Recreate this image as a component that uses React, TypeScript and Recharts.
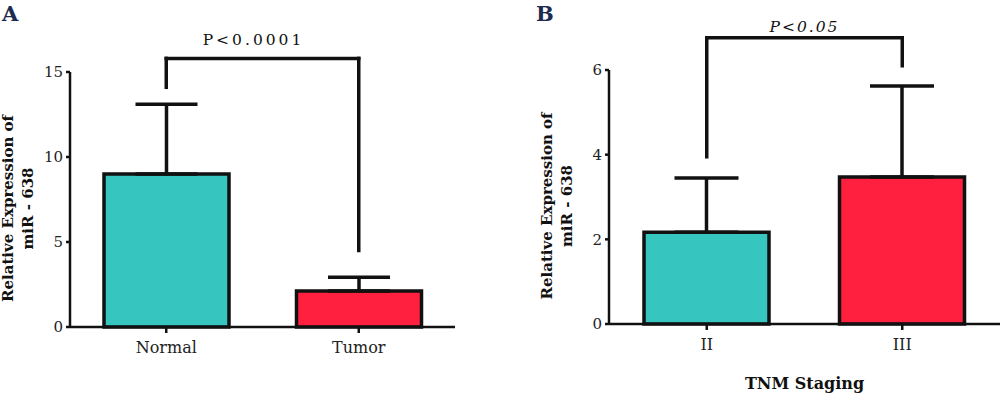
import { BarChart, Bar, XAxis, YAxis, ErrorBar, Cell, ReferenceLine } from 'recharts';

// panel A: Normal vs Tumor
const groupsA = ['Normal', 'Tumor'];
const meansA = [9.0, 2.12];
const sdA = [4.1, 0.8];
const ticksA = [0, 5, 10, 15];
const bracketA = { top: 15.8, left: 14.1, right: 4.5, text: 'P<0.0001' };

// panel B: TNM staging
const groupsB = ['II', 'III'];
const meansB = [2.17, 3.47];
const sdB = [1.28, 2.15];
const ticksB = [0, 2, 4, 6];
const bracketB = { top: 6.76, left: 3.95, right: 6.1, text: 'P<0.05' };

const BAR_COLORS = ['#36c5bf', '#ff1f3e'];
const SERIF = '"DejaVu Serif", serif';
const INK = '#111';

const toRows = (groups: string[], means: number[], sd: number[]) =>
  groups.map((g, i) => ({ name: g, value: means[i], err: [0, sd[i]] }));

function YLabel(props: any) {
  const vb = props.viewBox || {};
  const axisX = vb.x + vb.width;
  const cy = vb.y + vb.height / 2 + 9;
  const style = { fontFamily: SERIF, fontWeight: 700, fontSize: 15, fill: INK };
  return (
    <g>
      <text transform={`translate(${axisX - 57},${cy}) rotate(-90)`} textAnchor="middle" style={style}>
        Relative Expression of
      </text>
      <text transform={`translate(${axisX - 37},${cy}) rotate(-90)`} textAnchor="middle" style={style}>
        miR - 638
      </text>
    </g>
  );
}

interface PanelProps {
  groups: string[];
  means: number[];
  sd: number[];
  ticks: number[];
  bracket: { top: number; left: number; right: number; text: string };
  left: number;
  width: number;
  margin: { top: number; right: number; left: number; bottom: number };
  xHeight: number;
  capWidth: number;
  italic?: boolean;
  pOffset: number;
  pSpacing: number;
  pShift: number;
  xLabel?: string;
}

function Panel(p: PanelProps) {
  const rows = toRows(p.groups, p.means, p.sd);
  const [g0, g1] = p.groups;
  const br = p.bracket;
  const line = { stroke: INK, strokeWidth: 3.5, strokeLinecap: 'square' as const, ifOverflow: 'visible' as const };
  return (
    <div style={{ position: 'absolute', left: p.left, top: 0 }}>
      <BarChart width={p.width} height={394} data={rows} margin={p.margin}>
        <XAxis
          dataKey="name"
          height={p.xHeight}
          axisLine={{ stroke: INK, strokeWidth: 2.5 }}
          tickLine={{ stroke: INK, strokeWidth: 2.5 }}
          tickSize={6}
          tickMargin={9}
          tick={{ fontFamily: SERIF, fontSize: 16, fill: '#222' }}
          label={p.xLabel ? {
            value: p.xLabel, position: 'insideBottom', offset: 5,
            style: { fontFamily: SERIF, fontWeight: 700, fontSize: 16, fill: INK },
          } : undefined}
        />
        <YAxis
          width={60}
          domain={[p.ticks[0], p.ticks[p.ticks.length - 1]]}
          ticks={p.ticks}
          axisLine={{ stroke: INK, strokeWidth: 2.5 }}
          tickLine={{ stroke: INK, strokeWidth: 2.5 }}
          tickSize={4}
          tickMargin={3}
          tick={{ fontFamily: SERIF, fontSize: 15, fill: '#222' }}
          label={(lp: any) => <YLabel {...lp} />}
        />
        <Bar dataKey="value" barSize={125} stroke={INK} strokeWidth={3.5} isAnimationActive={false}>
          {rows.map((r, i) => (
            <Cell key={r.name} fill={BAR_COLORS[i]} />
          ))}
          <ErrorBar dataKey="err" direction="y" width={p.capWidth} stroke={INK} strokeWidth={3.5} />
        </Bar>
        <ReferenceLine
          segment={[{ x: g0, y: br.top }, { x: g1, y: br.top }]}
          {...line}
          label={{
            value: br.text, position: 'top', offset: p.pOffset, dx: p.pShift,
            style: {
              fontFamily: SERIF, fontSize: 15.5, fill: INK, letterSpacing: p.pSpacing,
              fontStyle: p.italic ? 'italic' : 'normal',
            },
          }}
        />
        <ReferenceLine segment={[{ x: g0, y: br.top }, { x: g0, y: br.left }]} {...line} />
        <ReferenceLine segment={[{ x: g1, y: br.top }, { x: g1, y: br.right }]} {...line} />
      </BarChart>
    </div>
  );
}

const letterStyle = {
  position: 'absolute' as const,
  top: 1,
  fontFamily: SERIF,
  fontWeight: 700,
  fontSize: 21,
  color: '#1d2b4f',
  lineHeight: '26px',
};

export default function App() {
  return (
    <div style={{ position: 'absolute', left: 0, top: 0, width: 1000, height: 394, background: '#fff' }}>
      <Panel
        groups={groupsA} means={meansA} sd={sdA} ticks={ticksA} bracket={bracketA}
        left={0} width={500}
        margin={{ top: 72, right: 45, left: 10, bottom: 0 }}
        xHeight={67} capWidth={31} pOffset={13} pSpacing={3} pShift={-9}
      />
      <Panel
        groups={groupsB} means={meansB} sd={sdB} ticks={ticksB} bracket={bracketB}
        left={500} width={500}
        margin={{ top: 70, right: 0, left: 49, bottom: 0 }}
        xHeight={70} capWidth={32} pOffset={6} pSpacing={2} pShift={0} italic
        xLabel="TNM Staging"
      />
      <div style={{ ...letterStyle, left: 2 }}>A</div>
      <div style={{ ...letterStyle, left: 536 }}>B</div>
    </div>
  );
}
